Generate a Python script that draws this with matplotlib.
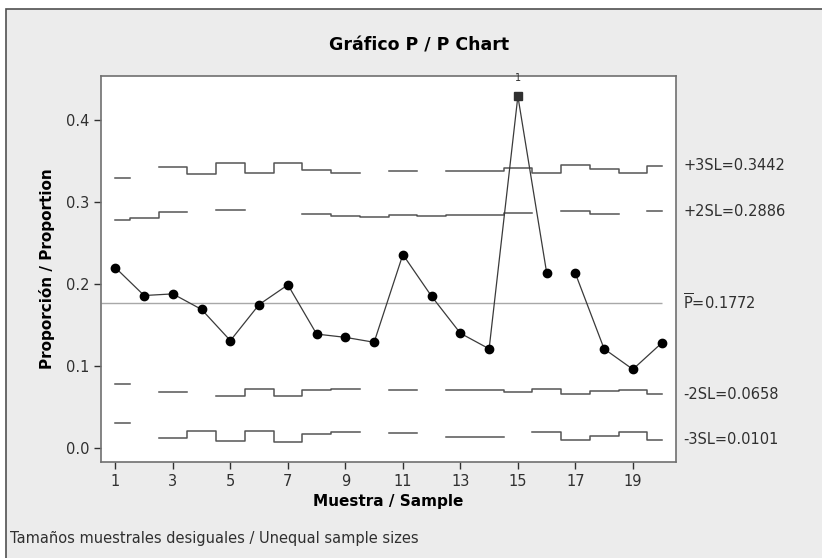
import numpy as np
import matplotlib.pyplot as plt
import matplotlib.transforms as mtrans
from matplotlib.patches import Rectangle

nan = np.nan
sample = np.arange(1, 21)
prop = [0.220, 0.186, 0.188, 0.169, 0.131, 0.175, 0.199, 0.139, 0.135, 0.129,
        0.236, 0.185, 0.140, 0.121, 0.429, 0.214, 0.213, 0.121, 0.096, 0.128]
pbar = 0.1772
ucl3 = [0.329, nan, 0.343, 0.334, 0.347, 0.335, 0.348, 0.339, 0.335, nan,
        0.338, nan, 0.338, 0.338, 0.342, 0.336, 0.345, 0.340, 0.336, 0.3442]
ucl2 = [0.278, 0.281, 0.288, nan, 0.290, nan, nan, 0.285, 0.283, 0.282,
        0.284, 0.283, 0.284, 0.284, 0.287, nan, 0.289, 0.286, nan, 0.2886]
lcl2 = [0.078, nan, 0.0687, nan, 0.0638, 0.072, 0.0638, 0.0705, 0.072, nan,
        0.071, nan, 0.0705, 0.0705, 0.0687, 0.072, 0.0659, 0.0695, 0.071, 0.0658]
lcl3 = [0.030, nan, 0.012, 0.021, 0.0085, 0.021, 0.007, 0.017, 0.020, nan,
        0.018, nan, 0.014, 0.014, nan, 0.019, 0.0098, 0.0146, 0.019, 0.0101]
limit_labels = ['+3SL=0.3442', '+2SL=0.2886', r'$\overline{\mathrm{P}}$=0.1772',
                '-2SL=0.0658', '-3SL=0.0101']
limit_values = [0.3442, 0.2886, pbar, 0.0658, 0.0101]
out_idx = 14  # sample 15 is out of control

fig = plt.figure(figsize=(8.22, 5.58), dpi=100, facecolor='white')
fig.patches.append(Rectangle((6/822, -0.05), 1.1, 1.05 - 9/558, transform=fig.transFigure,
                             facecolor='#ececec', edgecolor='#505050', lw=1.2, zorder=-10))
ax = fig.add_axes([101/822, 1 - 462/558, 575/822, 386/558])
ax.set_facecolor('white')

lim_col = '#555555'
for lim in (ucl3, ucl2, lcl2, lcl3):
    ax.step(sample, lim, where='mid', color=lim_col, lw=1.1, zorder=2)
ax.hlines(pbar, 0.5, 20, color='#a8a8a8', lw=1.0, zorder=1)

# data line (segment between 16 and 17 not drawn in the original)
ax.plot(sample[:16], prop[:16], color='#3a3a3a', lw=0.9, zorder=3)
ax.plot(sample[16:], prop[16:], color='#3a3a3a', lw=0.9, zorder=3)
mask = np.arange(20) != out_idx
ax.plot(sample[mask], np.array(prop)[mask], 'o', color='black', ms=6, zorder=4)
ax.plot(sample[out_idx], prop[out_idx], 's', color='#303030', ms=5.5, zorder=4)
ax.text(sample[out_idx], 0.4515, '1', fontsize=7, ha='center', va='center', color='#303030')

ax.set_xlim(0.5, 20.5)
ax.set_ylim(-0.017, 0.4537)
ax.set_xticks(range(1, 20, 2))
ax.set_yticks([0.0, 0.1, 0.2, 0.3, 0.4])
ax.set_yticklabels(['0.0', '0.1', '0.2', '0.3', '0.4'])
ax.tick_params(direction='out', length=5, width=1, colors='#303030', labelsize=10.5)
for s in ax.spines.values():
    s.set_color('#707070')
    s.set_linewidth(1.2)

trans = mtrans.blended_transform_factory(fig.transFigure, ax.transData)
for lab, v in zip(limit_labels, limit_values):
    ax.text(683/822, v, lab, transform=trans, fontsize=10.5, va='center', ha='left', color='#303030')

ax.set_xlabel('Muestra / Sample', fontsize=11, fontweight='bold', labelpad=4)
ax.set_ylabel('Proporción / Proportion', fontsize=11, fontweight='bold', labelpad=8)
fig.text(419/822, 1 - 46/558, 'Gráfico P / P Chart', fontsize=12.5, fontweight='bold',
         ha='center', va='center')
fig.text(10/822, 1 - 538/558, 'Tamaños muestrales desiguales / Unequal sample sizes',
         fontsize=10.5, ha='left', va='center', color='#303030')

fig.savefig('out.png', dpi=100, facecolor=fig.get_facecolor())
